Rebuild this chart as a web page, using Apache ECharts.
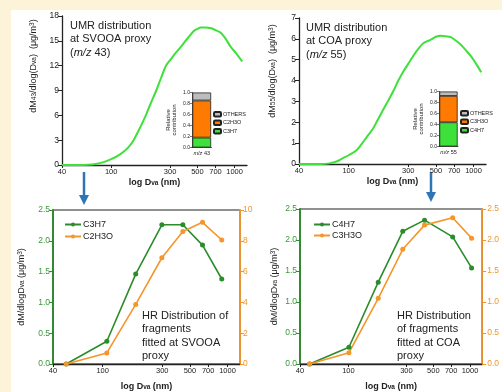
<!DOCTYPE html>
<html>
<head>
<meta charset="utf-8">
<script src="https://cdn.jsdelivr.net/npm/echarts@6/dist/echarts.min.js"></script>
<style>
  html, body { margin: 0; padding: 0; background: #fdf3d8; }
  #paper { position: absolute; left: 11px; top: 10px; width: 491px; height: 382px; background: #fff; }
  #chart { position: absolute; left: 0; top: 0; width: 502px; height: 392px; }
</style>
</head>
<body>
<div id="paper"></div>
<div id="chart"></div>
<script>
// size axis ticks (nm), shared by all four panels
const sizeTicks = [40, 100, 300, 500, 700, 1000];
const sizeMin = 40;
const sizeMax = 1260;

// UMR distribution at m/z 43 (SVOOA proxy)
const umr43D = [40, 55, 65, 75, 87, 100, 113, 126, 139, 152, 170, 191, 210, 232, 255, 278, 305, 336, 368, 400, 433, 467, 500, 530, 580, 636, 700, 768, 850, 928, 1040, 1154];
const umr43Val = [0, 0, 0.03, 0.12, 0.35, 0.7, 1.1, 1.6, 2.2, 3.0, 4.4, 6.0, 7.5, 9.0, 10.6, 12.0, 12.8, 13.6, 14.3, 15.0, 15.6, 16.2, 16.45, 16.6, 16.6, 16.55, 16.3, 16.0, 15.2, 14.3, 13.4, 12.5];

// UMR distribution at m/z 55 (COA proxy)
const umr55D = [40, 60, 70, 80, 90, 100, 115, 125, 140, 157, 172, 189, 208, 228, 250, 275, 300, 331, 365, 399, 452, 500, 546, 600, 658, 720, 793, 870, 957, 1050, 1153];
const umr55Val = [0, 0, 0.03, 0.12, 0.28, 0.42, 0.65, 0.9, 1.3, 1.7, 2.15, 2.6, 3.05, 3.5, 4.0, 4.45, 4.8, 5.2, 5.55, 5.8, 5.95, 6.1, 6.15, 6.12, 6.08, 5.92, 5.72, 5.45, 5.16, 4.8, 4.4];

// relative contribution of fragments (insets)
const inset43Names = ['C3H7', 'C2H3O', 'OTHERS'];
const inset43Vals = [0.18, 0.675, 0.145];
const inset55Names = ['C4H7', 'C3H3O', 'OTHERS'];
const inset55Vals = [0.44, 0.48, 0.08];

// HR fragments fitted at SVOOA proxy
const hrSvooaD = [51, 108, 184, 298, 439, 631, 900];
const c3h7 = [0, 0.37, 1.46, 2.26, 2.26, 1.93, 1.38];
const c2h3o = [0, 0.72, 3.87, 6.9, 8.6, 9.2, 8.05];

// HR fragments fitted at COA proxy
const hrCoaD = [48, 101, 176, 280, 423, 721, 1031];
const c4h7 = [0, 0.27, 1.32, 2.14, 2.32, 2.05, 1.55];
const c3h3o = [0, 0.18, 1.06, 1.85, 2.24, 2.36, 2.03];

const FONT = '"Liberation Sans", Arial, sans-serif';
const INK = '#222';
const BRIGHT_GREEN = '#3ee03a';
const DARK_GREEN = '#2b8c2b';
const LIGHT_ORANGE = '#f5962a';

const toXY = (ds, vs) => ds.map((d, i) => [Math.log10(d), vs[i]]);

function sizeAxis(gridIndex, nameGap) {
  const ticks = sizeTicks.map(Math.log10);
  return {
    type: 'value', gridIndex,
    min: Math.log10(sizeMin), max: Math.log10(sizeMax),
    axisLine: { show: true, onZero: false, lineStyle: { color: INK, width: 1.3 } },
    axisTick: { show: true, length: 3, customValues: ticks, lineStyle: { color: INK } },
    axisLabel: {
      customValues: ticks, fontSize: 7.5, color: INK, margin: 3,
      formatter: v => String(Math.round(Math.pow(10, v)))
    },
    splitLine: { show: false },
    name: 'log D{s|va} (nm)', nameLocation: 'middle', nameGap,
    nameTextStyle: {
      fontSize: 9, fontWeight: 'bold', color: INK,
      rich: { s: { fontSize: 6.5, fontWeight: 'bold', verticalAlign: 'bottom', lineHeight: 8, color: INK } }
    }
  };
}

const subRich = {
  s: { fontSize: 6.5, verticalAlign: 'bottom', lineHeight: 8, color: INK },
  p: { fontSize: 6.5, verticalAlign: 'top', lineHeight: 8, color: INK }
};

function valueAxis(gridIndex, max, interval, color, extra) {
  return Object.assign({
    type: 'value', gridIndex, min: 0, max, interval,
    axisLine: { show: true, lineStyle: { color, width: 1.3 } },
    axisTick: { show: true, length: 4, lineStyle: { color } },
    axisLabel: { fontSize: 8.5, color, margin: 3 },
    splitLine: { show: false }
  }, extra);
}

function insetX(gridIndex, label) {
  return {
    type: 'category', gridIndex, data: [label],
    axisLine: { lineStyle: { color: INK, width: 0.8 } },
    axisTick: { show: false },
    axisLabel: {
      fontSize: 5.5, color: INK, margin: 3,
      formatter: v => '{i|m/z}' + v.slice(3),
      rich: { i: { fontSize: 5.5, fontStyle: 'italic', color: INK } }
    }
  };
}

function insetY(gridIndex) {
  return {
    type: 'value', gridIndex, min: 0, max: 1, interval: 0.2,
    axisLine: { show: true, lineStyle: { color: INK, width: 0.8 } },
    axisTick: { show: true, length: 2, lineStyle: { color: INK, width: 0.6 } },
    axisLabel: { fontSize: 5, color: INK, margin: 2, formatter: v => v.toFixed(1) },
    splitLine: { show: false },
    name: 'Relative\ncontribution', nameLocation: 'middle', nameGap: 14,
    nameTextStyle: { fontSize: 6, lineHeight: 6.5, color: INK }
  };
}

const insetColors = { C3H7: BRIGHT_GREEN, C4H7: BRIGHT_GREEN, C2H3O: '#ff7a00', C3H3O: '#ff7a00', OTHERS: '#bdbdbd' };

function insetSeries(names, vals, axisIndex, tag) {
  return names.map((n, i) => ({
    name: n + '#' + tag, type: 'bar', stack: 'rel' + tag,
    xAxisIndex: axisIndex, yAxisIndex: axisIndex,
    barWidth: '96%',
    itemStyle: { color: insetColors[n], borderColor: INK, borderWidth: 0.8 },
    data: [vals[i]]
  }));
}

function insetLegend(names, tag, left, top) {
  return {
    orient: 'vertical', left, top, padding: 0,
    itemWidth: 7, itemHeight: 4.5, itemGap: 2, selectedMode: false,
    textStyle: { fontSize: 5.5, color: INK, padding: [0, 0, 0, -3] },
    formatter: n => n.split('#')[0],
    data: names.slice().reverse().map(n => n + '#' + tag)
  };
}

function hrLine(name, ds, vs, axisIndex, yIndex, color) {
  return {
    name, type: 'line', xAxisIndex: axisIndex, yAxisIndex: yIndex,
    data: toXY(ds, vs), symbol: 'circle', symbolSize: 5,
    lineStyle: { color, width: 1.6 }, itemStyle: { color }
  };
}

const bottomYName = 'dM/dlogD{s|va} (μg/m{p|3})';

const option = {
  animation: false,
  textStyle: { fontFamily: FONT },
  title: [
    { text: 'UMR distribution\nat SVOOA proxy\n({i|m/z} 43)', left: 70, top: 19 },
    { text: 'UMR distribution\nat COA proxy\n({i|m/z} 55)', left: 306, top: 21 },
    { text: 'HR Distribution of\nfragments\nfitted at SVOOA\nproxy', left: 142, top: 309 },
    { text: 'HR Distribution\nof fragments\nfitted at COA\nproxy', left: 397, top: 309 }
  ].map(t => Object.assign(t, {
    padding: 0,
    textStyle: {
      fontSize: 11, lineHeight: 13.5, fontWeight: 'normal', color: INK,
      rich: { i: { fontSize: 11, fontStyle: 'italic', color: INK } }
    }
  })),
  legend: [
    insetLegend(inset43Names, '43', 213, 111),
    insetLegend(inset55Names, '55', 460, 110),
    {
      orient: 'vertical', left: 64, top: 220, padding: 0, itemGap: 3,
      itemWidth: 16, itemHeight: 5, selectedMode: false,
      textStyle: { fontSize: 9, color: INK, padding: [0, 0, 0, -3] },
      data: ['C3H7', 'C2H3O']
    },
    {
      orient: 'vertical', left: 313, top: 220, padding: 0, itemGap: 2,
      itemWidth: 16, itemHeight: 5, selectedMode: false,
      textStyle: { fontSize: 9, color: INK, padding: [0, 0, 0, -3] },
      data: ['C4H7', 'C3H3O']
    }
  ],
  grid: [
    { left: 62, top: 16, width: 185, height: 149 },
    { left: 299, top: 18, width: 187, height: 146 },
    { left: 192, top: 92.5, width: 19.5, height: 55 },
    { left: 439, top: 91.5, width: 19, height: 55 },
    { left: 53, top: 210, width: 187, height: 157, show: true, borderColor: INK, borderWidth: 1.2 },
    { left: 300, top: 209, width: 190, height: 159, show: true, borderColor: INK, borderWidth: 1.2 }
  ],
  xAxis: [
    sizeAxis(0, 13),
    sizeAxis(1, 13),
    insetX(2, 'm/z 43'),
    insetX(3, 'm/z 55'),
    sizeAxis(4, 18),
    sizeAxis(5, 18)
  ],
  yAxis: [
    valueAxis(0, 18, 3, INK, {
      name: 'dM{s|43}/dlog(D{s|va})  (μg/m{p|3})', nameLocation: 'middle', nameGap: 24,
      nameTextStyle: { fontSize: 9, color: INK, padding: [0, 0, 0, 49], rich: subRich }
    }),
    valueAxis(1, 7, 1, INK, {
      name: 'dM{s|55}/dlog(D{s|va})  (μg/m{p|3})', nameLocation: 'middle', nameGap: 22,
      nameTextStyle: { fontSize: 9, color: INK, padding: [0, 0, 0, 40], rich: subRich }
    }),
    insetY(2),
    insetY(3),
    valueAxis(4, 2.5, 0.5, DARK_GREEN, {
      axisLabel: { fontSize: 8.5, color: '#3a9a3a', margin: 3, formatter: v => v.toFixed(1) },
      axisLine: { show: true, lineStyle: { color: DARK_GREEN, width: 1.8 } },
      name: bottomYName, nameLocation: 'middle', nameGap: 27,
      nameTextStyle: { fontSize: 9, color: INK, rich: subRich }
    }),
    valueAxis(4, 10, 2, LIGHT_ORANGE, {
      position: 'right',
      axisLine: { show: true, lineStyle: { color: LIGHT_ORANGE, width: 1.8 } }
    }),
    valueAxis(5, 2.5, 0.5, DARK_GREEN, {
      axisLabel: { fontSize: 8.5, color: '#3a9a3a', margin: 3, formatter: v => v.toFixed(1) },
      axisLine: { show: true, lineStyle: { color: DARK_GREEN, width: 1.8 } },
      name: bottomYName, nameLocation: 'middle', nameGap: 21,
      nameTextStyle: { fontSize: 9, color: INK, rich: subRich }
    }),
    valueAxis(5, 2.5, 0.5, LIGHT_ORANGE, {
      position: 'right',
      axisLabel: { fontSize: 8.5, color: LIGHT_ORANGE, margin: 5, formatter: v => v.toFixed(1) },
      axisLine: { show: true, lineStyle: { color: LIGHT_ORANGE, width: 1.8 } }
    })
  ],
  series: [
    {
      name: 'm/z 43', type: 'line', xAxisIndex: 0, yAxisIndex: 0, smooth: 0.3, showSymbol: false,
      data: toXY(umr43D, umr43Val), lineStyle: { color: BRIGHT_GREEN, width: 2 }
    },
    {
      name: 'm/z 55', type: 'line', xAxisIndex: 1, yAxisIndex: 1, smooth: 0.3, showSymbol: false,
      data: toXY(umr55D, umr55Val), lineStyle: { color: BRIGHT_GREEN, width: 2 }
    },
    ...insetSeries(inset43Names, inset43Vals, 2, '43'),
    ...insetSeries(inset55Names, inset55Vals, 3, '55'),
    hrLine('C3H7', hrSvooaD, c3h7, 4, 4, DARK_GREEN),
    hrLine('C2H3O', hrSvooaD, c2h3o, 4, 5, LIGHT_ORANGE),
    hrLine('C4H7', hrCoaD, c4h7, 5, 6, DARK_GREEN),
    hrLine('C3H3O', hrCoaD, c3h3o, 5, 7, LIGHT_ORANGE)
  ],
  graphic: [
    // blue arrows linking UMR panels to HR panels
    { type: 'line', shape: { x1: 84, y1: 172, x2: 84, y2: 197 }, style: { stroke: '#2f75b5', lineWidth: 2.5 } },
    { type: 'polygon', shape: { points: [[79, 195], [89, 195], [84, 205]] }, style: { fill: '#2f75b5' } },
    { type: 'line', shape: { x1: 431, y1: 172, x2: 431, y2: 194 }, style: { stroke: '#2f75b5', lineWidth: 2.5 } },
    { type: 'polygon', shape: { points: [[426, 192], [436, 192], [431, 202]] }, style: { fill: '#2f75b5' } }
  ]
};

const chart = echarts.init(document.getElementById('chart'), null, { renderer: 'canvas' });
chart.setOption(option);
</script>
</body>
</html>
